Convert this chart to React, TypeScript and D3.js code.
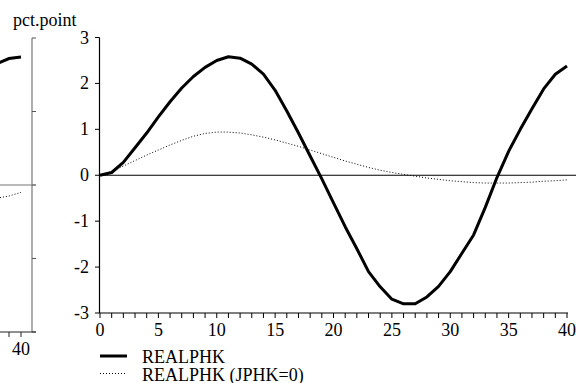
import React from "react";
import * as d3 from "d3";

const periods = d3.range(0, 41);
const realphk = [0, 0.06, 0.28, 0.6, 0.92, 1.27, 1.6, 1.9, 2.15, 2.35, 2.5, 2.58, 2.55, 2.42, 2.2, 1.85, 1.4, 0.92, 0.42, -0.08, -0.6, -1.12, -1.6, -2.1, -2.43, -2.7, -2.8, -2.8, -2.65, -2.42, -2.1, -1.7, -1.3, -0.7, -0.05, 0.52, 1.0, 1.45, 1.88, 2.2, 2.38];
const realphkJ0 = [0, 0.08, 0.2, 0.32, 0.44, 0.55, 0.66, 0.76, 0.85, 0.91, 0.94, 0.94, 0.92, 0.88, 0.83, 0.77, 0.7, 0.63, 0.55, 0.47, 0.39, 0.31, 0.24, 0.17, 0.11, 0.06, 0.02, -0.02, -0.06, -0.09, -0.12, -0.14, -0.16, -0.17, -0.17, -0.17, -0.16, -0.15, -0.13, -0.12, -0.1];
const yTicks = [-3, -2, -1, 0, 1, 2, 3];
const xLabelTicks = [0, 5, 10, 15, 20, 25, 30, 35, 40];

// fragment of the neighbouring panel on the left
const leftPeriods = [38, 39, 40];
const leftSolid = [1.65, 1.72, 1.74];
const leftDotted = [-0.18, -0.15, -0.1];
const leftYTicks = [-2, -1, 0, 1, 2];
const leftXTicks = [39, 40];
const leftXLabels = [40];

const legendItems = ["REALPHK", "REALPHK (JPHK=0)"];

const FONT = "Liberation Serif";
const T = { fontFamily: FONT, fontSize: "18px" };

export default function App() {
  const x = d3.scaleLinear().domain([0, 40]).range([100, 567]);
  const y = d3.scaleLinear().domain([-3, 3]).range([313, 37.5]);
  const line = (vals: number[]) =>
    d3.line<number>().x((_, i) => x(periods[i])).y((v) => y(v)).curve(d3.curveLinear)(vals) || "";

  const lx = d3.scaleLinear().domain([39, 40]).range([9, 21]);
  const ly = d3.scaleLinear().domain([-2, 2]).range([332, 38]);
  const lline = (vals: number[]) =>
    d3.line<number>().x((_, i) => lx(leftPeriods[i])).y((v) => ly(v))(vals) || "";

  const minorTicks = d3.range(0, 41);

  return (
    <svg width={576} height={383} style={{ position: "absolute", left: 0, top: 0, background: "#fff" }}>
      {/* left fragment */}
      <g>
        <line x1={32} x2={32} y1={ly(2)} y2={ly(-2)} stroke="#777" strokeWidth={1.2} />
        {leftYTicks.map((t) => (
          <line key={t} x1={32} x2={36} y1={ly(t)} y2={ly(t)} stroke="#555" strokeWidth={1} />
        ))}
        <line x1={0} x2={36} y1={ly(0)} y2={ly(0)} stroke="#777" strokeWidth={1.2} />
        <line x1={0} x2={36} y1={ly(-2)} y2={ly(-2)} stroke="#222" strokeWidth={1.2} />
        {leftXTicks.map((t) => (
          <line key={t} x1={lx(t)} x2={lx(t)} y1={ly(-2)} y2={ly(-2) + 5} stroke="#222" strokeWidth={1} />
        ))}
        {leftXLabels.map((t) => (
          <text key={t} x={lx(t)} y={355} textAnchor="middle" style={T}>{t}</text>
        ))}
        <path d={lline(leftSolid)} fill="none" stroke="#000" strokeWidth={3} />
        <path d={lline(leftDotted)} fill="none" stroke="#000" strokeWidth={1} strokeDasharray="1,2" />
      </g>

      {/* main panel */}
      <text x={13} y={26} style={T}>pct.point</text>
      <line x1={99.5} x2={99.5} y1={y(3)} y2={y(-3)} stroke="#000" strokeWidth={1.2} />
      {yTicks.map((t) => (
        <g key={t}>
          <line x1={95} x2={99.5} y1={y(t)} y2={y(t)} stroke="#000" strokeWidth={1} />
          <text x={89} y={y(t) + 6} textAnchor="end" style={T}>{t}</text>
        </g>
      ))}
      <line x1={99.5} x2={576} y1={y(0)} y2={y(0)} stroke="#000" strokeWidth={1.2} />
      <line x1={99.5} x2={568} y1={y(-3)} y2={y(-3)} stroke="#000" strokeWidth={1.2} />
      {minorTicks.map((t) => (
        <line key={t} x1={x(t)} x2={x(t)} y1={y(-3)} y2={y(-3) + 5} stroke="#000" strokeWidth={1} />
      ))}
      {xLabelTicks.map((t) => (
        <text key={t} x={x(t)} y={336} textAnchor="middle" style={T}>{t}</text>
      ))}
      <path d={line(realphkJ0)} fill="none" stroke="#000" strokeWidth={1} strokeDasharray="1,2" />
      <path d={line(realphk)} fill="none" stroke="#000" strokeWidth={3} strokeLinejoin="round" />

      {/* legend */}
      {legendItems.map((name, i) => (
        <g key={name} transform={`translate(0, ${356 + i * 17.5})`}>
          <line x1={100} x2={127} y1={0} y2={0} stroke="#000" strokeWidth={i === 0 ? 3 : 1} strokeDasharray={i === 0 ? undefined : "1,2"} />
          <text x={142} y={7} style={T}>{name}</text>
        </g>
      ))}
    </svg>
  );
}
